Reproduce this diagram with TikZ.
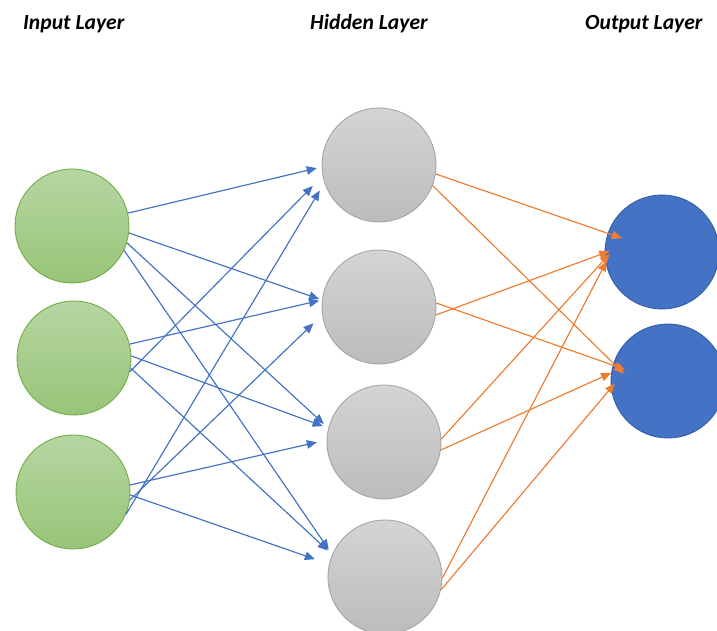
\documentclass[tikz,border=0pt]{standalone}
\usepackage{fontspec}
\setmainfont{Carlito}
\usetikzlibrary{arrows.meta}

\definecolor{inGreenTop}{RGB}{182,214,162}
\definecolor{inGreenBot}{RGB}{152,197,120}
\definecolor{inGreenLine}{RGB}{112,173,71}
\definecolor{hidGrayTop}{RGB}{212,212,212}
\definecolor{hidGrayBot}{RGB}{188,188,188}
\definecolor{hidGrayLine}{RGB}{165,165,165}
\definecolor{outBlue}{RGB}{68,114,196}
\definecolor{outBlueLine}{RGB}{52,92,168}
\definecolor{wireBlue}{RGB}{68,114,196}
\definecolor{wireOrange}{RGB}{237,125,49}

\tikzset{
  neuron/.style={circle, minimum size=114pt, inner sep=0pt, line width=0.9pt},
  inputneuron/.style={neuron, draw=inGreenLine, top color=inGreenTop, bottom color=inGreenBot},
  hiddenneuron/.style={neuron, draw=hidGrayLine, top color=hidGrayTop, bottom color=hidGrayBot},
  outputneuron/.style={neuron, draw=outBlueLine, fill=outBlue},
  wire/.style={line width=1.15pt, -{Triangle[length=10pt,width=8.5pt]}},
  bluewire/.style={wire, draw=wireBlue, fill=wireBlue},
  orangewire/.style={wire, draw=wireOrange, fill=wireOrange},
  layertitle/.style={anchor=base west, inner sep=0pt, font=\fontsize{21.6}{24}\selectfont\bfseries\itshape}
}

\begin{document}
\begin{tikzpicture}[x=1pt,y=-1pt]
  \useasboundingbox (0,0) rectangle (717,631);
  \fill[white] (0,0) rectangle (717,631);

  % layer titles
  \node[layertitle] (tin)  at (23,30)  {Input Layer};
  \node[layertitle] (thid) at (310,30) {Hidden Layer};
  \node[layertitle] (tout) at (585,30) {Output Layer};

  % input layer
  \node[inputneuron] (i1) at (72,226) {};
  \node[inputneuron] (i2) at (74,358) {};
  \node[inputneuron] (i3) at (73,492) {};

  % hidden layer
  \node[hiddenneuron] (h1) at (379,165) {};
  \node[hiddenneuron] (h2) at (379,307) {};
  \node[hiddenneuron] (h3) at (384,442) {};
  \node[hiddenneuron] (h4) at (385,577) {};

  % output layer
  \node[outputneuron] (o1) at (662,252) {};
  \node[outputneuron] (o2) at (668,381) {};

  % input -> hidden connections: source/angle/target/angle/gap
  \foreach \s/\sa/\t/\ta/\g in {
      i1/13/h1/182/5,  i1/-7/h2/173/3,  i1/-17/h3/166/6, i1/-25/h4/157/6,
      i2/-14/h1/191/14, i2/14/h2/173/3, i2/2/h3/166/6,   i2/-10/h4/157/6,
      i3/-23/h1/198/9, i3/-8/h2/188/12, i3/7/h3/178/10,  i3/-3/h4/167/15}
    \draw[bluewire, shorten >=\g pt] (\s.\sa) -- (\t.\ta);

  % hidden -> output connections
  \foreach \s/\sa/\t/\ta/\g in {
      h1/-9/o1/161/-15,  h1/-21/o2/162/-15,
      h2/-8/o1/181/-5,   h2/4/o2/164/-13,
      h3/3/o1/187/-7,    h3/-8/o2/172/0,
      h4/-1/o1/191/-2,   h4/-13/o2/187/-6}
    \draw[orangewire, shorten >=\g pt] (\s.\sa) -- (\t.\ta);
\end{tikzpicture}
\end{document}
